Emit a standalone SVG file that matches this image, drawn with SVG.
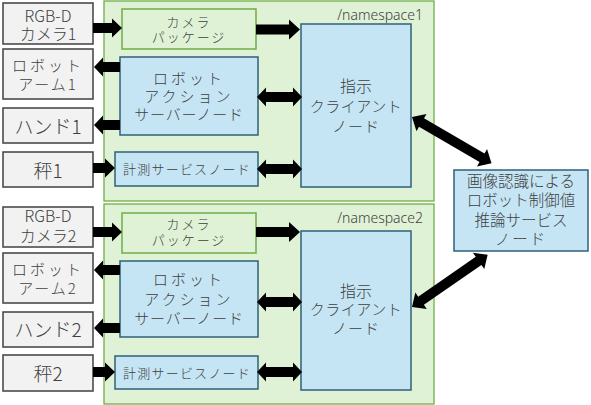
<svg xmlns="http://www.w3.org/2000/svg" width="591" height="405" viewBox="0 0 591 405">
<style>
text{font-family:"Noto Sans CJK JP","Noto Sans",sans-serif;font-weight:300;fill:#404040;text-anchor:middle;dominant-baseline:central}
.ns{fill:#dff2d6;stroke:#70ad47;stroke-width:1.3}
.pkg{fill:#dff2d6;stroke:#70ad47;stroke-width:1.5}
.dev{fill:#f2f2f2;stroke:#404040;stroke-width:1.5}
.node{fill:#c5e5f5;stroke:#31607a;stroke-width:1.5}
.arr{fill:#000}
.lbl{font-family:"Noto Sans","DejaVu Sans",sans-serif;text-anchor:end;font-size:14px}
</style>
<rect width="591" height="405" fill="#fff"/>
<g id="namespace1"><rect class="ns" x="104" y="1" width="330" height="200"/><text class="lbl" x="423" y="14">/namespace1</text></g>
<g id="namespace2"><rect class="ns" x="104" y="204" width="330" height="200"/><text class="lbl" x="423" y="217">/namespace2</text></g>

<g id="camera1"><rect class="dev" x="3" y="3" width="90" height="41"/><text x="48" y="15" font-size="16">RGB-D</text><text x="48" y="33" font-size="16">カメラ1</text></g>
<g id="arm1"><rect class="dev" x="3" y="49" width="90" height="50"/><text x="48" y="64" font-size="15" letter-spacing="3">ロボット</text><text x="48" y="83" font-size="15" letter-spacing="2">アーム1</text></g>
<g id="hand1"><rect class="dev" x="3" y="108" width="90" height="35"/><text x="48" y="125" font-size="19">ハンド1</text></g>
<g id="scale1"><rect class="dev" x="3" y="152" width="90" height="35"/><text x="48" y="169" font-size="19">秤1</text></g>
<g id="pkg1"><rect class="pkg" x="122" y="9" width="134" height="40"/><text x="189" y="21" font-size="13" letter-spacing="2">カメラ</text><text x="189" y="36" font-size="13" letter-spacing="2">パッケージ</text></g>
<g id="action1"><rect class="node" x="120" y="57" width="138" height="78"/><text x="189" y="77" font-size="15" letter-spacing="3">ロボット</text><text x="189" y="95" font-size="15" letter-spacing="3">アクション</text><text x="189" y="113" font-size="15" letter-spacing="0.8">サーバーノード</text></g>
<g id="measure1"><rect class="node" x="115" y="152" width="143" height="34"/><text x="187" y="168" font-size="13" letter-spacing="1.2">計測サービスノード</text></g>
<g id="client1"><rect class="node" x="301" y="24" width="110" height="163"/><text x="356" y="85" font-size="16">指示</text><text x="356" y="105" font-size="15" letter-spacing="0.5">クライアント</text><text x="356" y="125" font-size="15" letter-spacing="1">ノード</text></g>

<g id="camera2"><rect class="dev" x="3" y="207" width="90" height="40"/><text x="48" y="215" font-size="16">RGB-D</text><text x="48" y="235" font-size="16">カメラ2</text></g>
<g id="arm2"><rect class="dev" x="3" y="253" width="90" height="50"/><text x="48" y="268" font-size="15" letter-spacing="3">ロボット</text><text x="48" y="287" font-size="15" letter-spacing="2">アーム2</text></g>
<g id="hand2"><rect class="dev" x="3" y="312" width="90" height="35"/><text x="48" y="328" font-size="19">ハンド2</text></g>
<g id="scale2"><rect class="dev" x="3" y="355" width="90" height="36"/><text x="48" y="372" font-size="19">秤2</text></g>
<g id="pkg2"><rect class="pkg" x="122" y="213" width="134" height="40"/><text x="189" y="223" font-size="13" letter-spacing="2">カメラ</text><text x="189" y="239" font-size="13" letter-spacing="2">パッケージ</text></g>
<g id="action2"><rect class="node" x="120" y="261" width="138" height="76"/><text x="189" y="278" font-size="15" letter-spacing="3">ロボット</text><text x="189" y="298" font-size="15" letter-spacing="3">アクション</text><text x="189" y="317" font-size="15" letter-spacing="0.8">サーバーノード</text></g>
<g id="measure2"><rect class="node" x="115" y="356" width="143" height="33"/><text x="187" y="372" font-size="13" letter-spacing="1.2">計測サービスノード</text></g>
<g id="client2"><rect class="node" x="301" y="231" width="110" height="159"/><text x="356" y="290" font-size="16">指示</text><text x="356" y="308" font-size="15" letter-spacing="0.5">クライアント</text><text x="356" y="327" font-size="15" letter-spacing="1">ノード</text></g>

<g id="inference"><rect class="node" x="454" y="170" width="134" height="81"/><text x="521" y="180" font-size="15.5">画像認識による</text><text x="521" y="199" font-size="15.5">ロボット制御値</text><text x="521" y="219" font-size="15.5">推論サービス</text><text x="521" y="238" font-size="15.5" letter-spacing="2">ノード</text></g>

<g id="connectors">
<path class="arr" d="M93,23 H112 V18.5 L122,28 L112,37.5 V33 H93 Z"/>
<path class="arr" d="M256,24.5 H289 V19.5 L300,29.5 L289,39.5 V34.5 H256 Z"/>
<path class="arr" d="M120,62 H103 V57.5 L94,67 L103,76.5 V72 H120 Z"/>
<path class="arr" d="M120,120 H103 V115.5 L94,125 L103,134.5 V130 H120 Z"/>
<path class="arr" d="M93,163 H105 V158.5 L115,168 L105,177.5 V173 H93 Z"/>
<path class="arr" d="M257,97 L266,87.5 V92 H293 V87.5 L302,97 L293,106.5 V102 H266 V106.5 Z"/>
<path class="arr" d="M257,169 L266,159.5 V164 H293 V159.5 L302,169 L293,178.5 V174 H266 V178.5 Z"/>

<path class="arr" d="M93,227 H112 V222.5 L122,232 L112,241.5 V237 H93 Z"/>
<path class="arr" d="M256,227 H289 V222 L300,232 L289,242 V237 H256 Z"/>
<path class="arr" d="M120,265 H103 V260.5 L94,270 L103,279.5 V275 H120 Z"/>
<path class="arr" d="M120,323 H103 V318.5 L94,328 L103,337.5 V333 H120 Z"/>
<path class="arr" d="M93,367 H105 V362.5 L115,372 L105,381.5 V377 H93 Z"/>
<path class="arr" d="M257,302 L266,292.5 V297 H293 V292.5 L302,302 L293,311.5 V307 H266 V311.5 Z"/>
<path class="arr" d="M257,372 L266,362.5 V367 H293 V362.5 L302,372 L293,381.5 V377 H266 V381.5 Z"/>

<path class="arr" transform="translate(412,117) rotate(30.2)" d="M0,0 L11,-10 V-5 H81 V-10 L92,0 L81,10 V5 H11 V10 Z"/>
<path class="arr" transform="translate(412,307) rotate(-34.7)" d="M0,0 L11,-10 V-5 H81 V-10 L92,0 L81,10 V5 H11 V10 Z"/>
</g>
</svg>
